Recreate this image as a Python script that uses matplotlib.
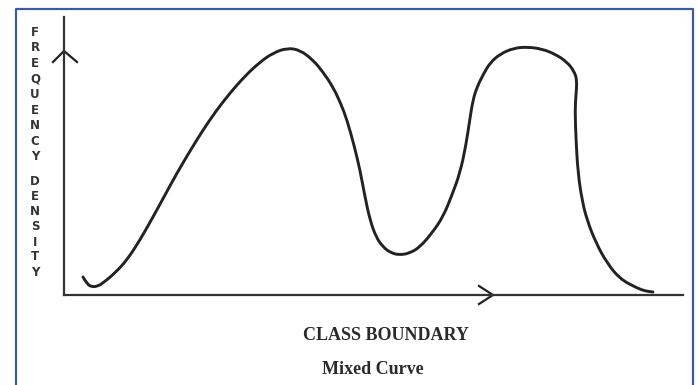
import matplotlib
matplotlib.use("Agg")
import matplotlib.pyplot as plt
from matplotlib.lines import Line2D
from matplotlib.path import Path
from matplotlib.patches import PathPatch

# Curve (class boundary vs frequency density, arbitrary units)
class_boundary = [19, 23, 28, 34, 39, 51, 63, 76, 89, 101, 113, 126, 139, 152, 166,
                  181, 196, 209, 223, 236, 249, 259, 269, 277, 283, 290, 296, 301, 306, 312,
                  319, 327, 336, 346, 356, 368, 379, 388, 396, 402, 406, 409, 413, 420, 426,
                  436, 450, 464, 478, 491, 503, 510, 513, 512, 511, 512, 514, 518, 523, 532,
                  543, 556, 573, 581, 589]
freq_density = [18, 11, 8, 9, 12, 22, 35, 55, 78, 100, 122, 144, 165, 184, 202,
                219, 233, 242, 247, 245, 235, 223, 208, 191, 175, 150, 125, 98, 75, 58,
                48, 42, 40, 42, 48, 62, 78, 100, 122, 150, 177, 195, 208, 222, 232,
                241, 247, 248, 246, 241, 233, 224, 215, 200, 185, 155, 122, 95, 75, 52,
                32, 16, 7, 4, 3]

y_letters = ["F", "R", "E", "Q", "U", "E", "N", "C", "Y"]
y_letters2 = ["D", "E", "N", "S", "I", "T", "Y"]
x_title = "CLASS BOUNDARY"
caption = "Mixed Curve"

W, H = 697, 385
fig = plt.figure(figsize=(W / 100, H / 100), dpi=100)
ax = fig.add_axes([64 / W, 90 / H, 619 / W, 278 / H])

ink = "#222222"

# smooth the hand-drawn curve: read points act as quadratic bezier controls
pts = list(zip(class_boundary, freq_density))
verts = [pts[0]]
codes = [Path.MOVETO]
for i in range(1, len(pts) - 1):
    mid = ((pts[i][0] + pts[i + 1][0]) / 2, (pts[i][1] + pts[i + 1][1]) / 2)
    verts += [pts[i], mid]
    codes += [Path.CURVE3, Path.CURVE3]
verts.append(pts[-1])
codes.append(Path.LINETO)
ax.add_patch(PathPatch(Path(verts, codes), facecolor="none", edgecolor=ink,
                       lw=2.1, capstyle="round", joinstyle="round"))

ax.set_xlim(0, 619)
ax.set_ylim(0, 278)
for s in ["top", "right"]:
    ax.spines[s].set_visible(False)
for s in ["left", "bottom"]:
    ax.spines[s].set_color("#333333")
    ax.spines[s].set_linewidth(1.6)
ax.set_xticks([])
ax.set_yticks([])

# arrow heads drawn on the axis lines
ax.plot([-11, 0, 13], [233, 244, 233], color=ink, lw=1.6, clip_on=False)
ax.plot([415, 429, 415], [9, 0, -9], color=ink, lw=1.6, clip_on=False)

# vertical stacked axis label
for i, ch in enumerate(y_letters):
    fig.text(35 / W, 1 - (32 + i * 15.6) / H, ch, ha="center", va="center",
             fontsize=8.5, fontweight="heavy", family="DejaVu Sans", color="#333333")
for i, ch in enumerate(y_letters2):
    fig.text(35 / W, 1 - (182 + i * 15.0) / H, ch, ha="center", va="center",
             fontsize=8.5, fontweight="heavy", family="DejaVu Sans", color="#333333")

fig.text(386 / W, 1 - 335 / H, x_title, ha="center", va="center",
         fontsize=13, fontweight="bold", family="Liberation Serif", color="#2a2a2a")
fig.text(373 / W, 1 - 370 / H, caption, ha="center", va="center",
         fontsize=13, fontweight="bold", family="Liberation Serif", color="#2a2a2a")

# blue frame (open at the bottom)
blue = "#3b5ca0"
fig.add_artist(Line2D([16 / W, 16 / W, 693 / W, 693 / W],
                      [-0.01, 1 - 9 / H, 1 - 9 / H, -0.01],
                      transform=fig.transFigure, color=blue, lw=1.6))

fig.savefig("out.png", dpi=100)
